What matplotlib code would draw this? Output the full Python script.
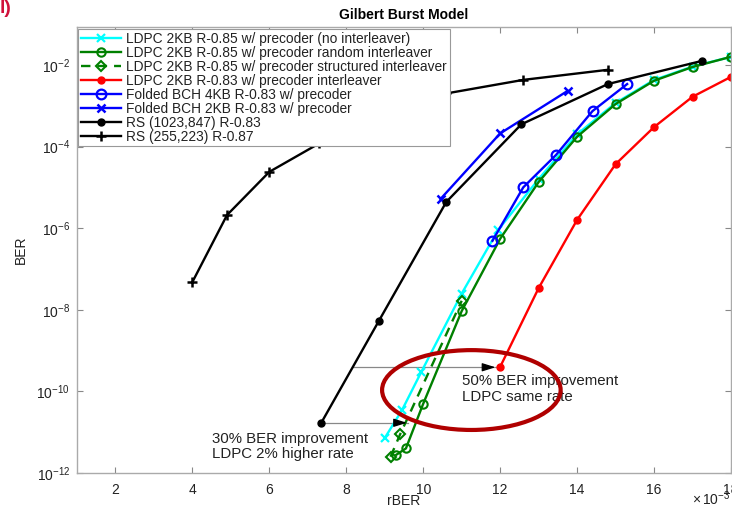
import numpy as np
import matplotlib
matplotlib.use('Agg')
import matplotlib.pyplot as plt
from matplotlib.patches import Ellipse
from matplotlib.ticker import FixedLocator, LogFormatterSciNotation, NullLocator

plt.rcParams['font.family'] = ['Liberation Sans', 'DejaVu Sans']
plt.rcParams['mathtext.fontset'] = 'custom'
plt.rcParams['mathtext.rm'] = 'Liberation Sans'
plt.rcParams['mathtext.it'] = 'Liberation Sans:italic'
plt.rcParams['mathtext.bf'] = 'Liberation Sans:bold'

# rBER in units of 1e-3, BER values
cyan_x = [9.0, 9.45, 9.95, 11.0, 11.95, 13.0, 14.0, 15.0, 16.0, 17.0, 18.0]
cyan_y = [7.2e-12, 3.5e-11, 3.0e-10, 2.5e-8, 9.1e-7, 1.6e-5, 2.0e-4, 1.17e-3, 4.3e-3, 9.1e-3, 1.58e-2]

rand_x = [9.3, 9.55, 10.0, 11.0, 12.0, 13.0, 14.0, 15.0, 16.0, 17.0, 18.0]
rand_y = [2.8e-12, 4.0e-12, 5.0e-11, 9.3e-9, 5.5e-7, 1.35e-5, 1.74e-4, 1.1e-3, 4.1e-3, 8.9e-3, 1.58e-2]

struct_x = [9.15, 9.4, 11.0]
struct_y = [2.5e-12, 8.9e-12, 1.66e-8]

red_x = [12.0, 13.0, 14.0, 15.0, 16.0, 17.0, 18.0]
red_y = [4.0e-10, 3.4e-8, 1.6e-6, 3.7e-5, 3.0e-4, 1.66e-3, 5.1e-3]

bch4_x = [11.8, 12.6, 13.45, 14.4, 15.3]
bch4_y = [4.9e-7, 1.0e-5, 6.2e-5, 7.4e-4, 3.4e-3]

bch2_x = [10.45, 12.0, 13.75]
bch2_y = [5.2e-6, 2.1e-4, 2.3e-3]

rs1023_x = [7.35, 8.85, 10.6, 12.55, 14.8, 17.25]
rs1023_y = [1.7e-11, 5.4e-9, 4.4e-6, 3.5e-4, 3.4e-3, 1.26e-2]

rs255_x = [4.0, 4.9, 6.0, 7.3, 8.8, 10.6, 12.6, 14.8]
rs255_y = [4.8e-8, 2.1e-6, 2.4e-5, 1.2e-4, 5.0e-4, 2.0e-3, 4.3e-3, 7.6e-3]

labels = ['LDPC 2KB R-0.85 w/ precoder (no interleaver)',
          'LDPC 2KB R-0.85 w/ precoder random interleaver',
          'LDPC 2KB R-0.85 w/ precoder structured interleaver',
          'LDPC 2KB R-0.83 w/ precoder interleaver',
          'Folded BCH 4KB R-0.83 w/ precoder',
          'Folded BCH 2KB R-0.83 w/ precoder',
          'RS (1023,847) R-0.83',
          'RS (255,223) R-0.87']

xticks = [2, 4, 6, 8, 10, 12, 14, 16, 18]
yticks = [1e-12, 1e-10, 1e-8, 1e-6, 1e-4, 1e-2]

fig = plt.figure(figsize=(7.32, 5.09), dpi=100)
ax = fig.add_axes([77/732, 36/509, 654/732, 446/509])

lw = 1.7
ax.plot(cyan_x, cyan_y, color='#00ffff', lw=lw, marker='x', ms=6, mew=1.6, label=labels[0])
ax.plot(rand_x, rand_y, color='#008000', lw=lw, marker='o', ms=6, mew=1.5, mfc='none', label=labels[1])
ax.plot(struct_x, struct_y, color='#008000', lw=lw, ls='--', dashes=(4, 3), marker='D', ms=5, mew=1.5,
        mfc='none', label=labels[2])
ax.plot(red_x, red_y, color='#ff0000', lw=lw, marker='o', ms=5, label=labels[3])
ax.plot(bch4_x, bch4_y, color='#0000ff', lw=lw, marker='o', ms=7, mew=1.6, mfc='none', label=labels[4])
ax.plot(bch2_x, bch2_y, color='#0000ff', lw=lw, marker='x', ms=6, mew=1.8, label=labels[5])
ax.plot(rs1023_x, rs1023_y, color='black', lw=lw, marker='o', ms=5, label=labels[6])
ax.plot(rs255_x, rs255_y, color='black', lw=lw, marker='+', ms=7, mew=1.8, label=labels[7])

ax.set_yscale('log')
ax.set_xlim(1, 18)
ax.set_ylim(1e-12, 8.5e-2)
ax.xaxis.set_major_locator(FixedLocator(xticks))
ax.yaxis.set_major_locator(FixedLocator(yticks))
ax.yaxis.set_major_formatter(LogFormatterSciNotation())
ax.yaxis.set_minor_locator(NullLocator())
ax.tick_params(direction='in', length=4, width=0.8, color='#888888', labelcolor='#222222',
               labelsize=10, top=True, right=True, pad=5)
ax.tick_params(axis='x', pad=7)
for s in ax.spines.values():
    s.set_color('#aaaaaa')
    s.set_linewidth(1.0)

ax.set_title('Gilbert Burst Model', fontsize=10, fontweight='bold', pad=6)
ax.set_xlabel('rBER', fontsize=10, color='#222222')
ax.xaxis.set_label_coords(0.5, -0.047)
ax.set_ylabel('BER', fontsize=10, color='#222222', labelpad=6)
fig.text(0.997, 0.002, r'$\times\,10^{-3}$', ha='right', va='bottom', fontsize=10, color='#222222')
fig.text(0.0, 1.0, 'l)', ha='left', va='top', fontsize=14, fontweight='bold', color='#d0103a')

# annotations
ax.plot([8.17, 11.9], [3.9e-10, 3.9e-10], color='#888888', lw=0.9, zorder=1)
ax.annotate('', xy=(11.95, 3.9e-10), xytext=(11.5, 3.9e-10),
            arrowprops=dict(arrowstyle='-|>,head_length=0.8,head_width=0.25', color='black', lw=0.9))
ax.plot([7.35, 9.6], [1.7e-11, 1.7e-11], color='#888888', lw=0.9, zorder=1)
ax.annotate('', xy=(9.65, 1.7e-11), xytext=(9.2, 1.7e-11),
            arrowprops=dict(arrowstyle='-|>,head_length=0.8,head_width=0.25', color='black', lw=0.9))
ax.text(11.02, 2.6e-10, '50% BER improvement\nLDPC same rate', fontsize=10.8, va='top', ha='left',
        color='#222222', linespacing=1.1)
ax.text(4.5, 1.0e-11, '30% BER improvement\nLDPC 2% higher rate', fontsize=10.8, va='top', ha='left',
        color='#222222', linespacing=1.05)
ax.add_patch(Ellipse((0.603, 0.186), 0.273, 0.179, transform=ax.transAxes, fill=False,
                     edgecolor='#b00000', lw=3, zorder=5))

leg = ax.legend(loc='upper left', bbox_to_anchor=(0.002, 0.996), borderaxespad=0, fontsize=9.9,
                handlelength=2.9, handletextpad=0.4, labelspacing=0.0, borderpad=0.2,
                fancybox=False, framealpha=1, edgecolor='#999999')
leg.get_frame().set_linewidth(0.8)
for t in leg.get_texts():
    t.set_color('#222222')

fig.savefig('out.png', dpi=100)
